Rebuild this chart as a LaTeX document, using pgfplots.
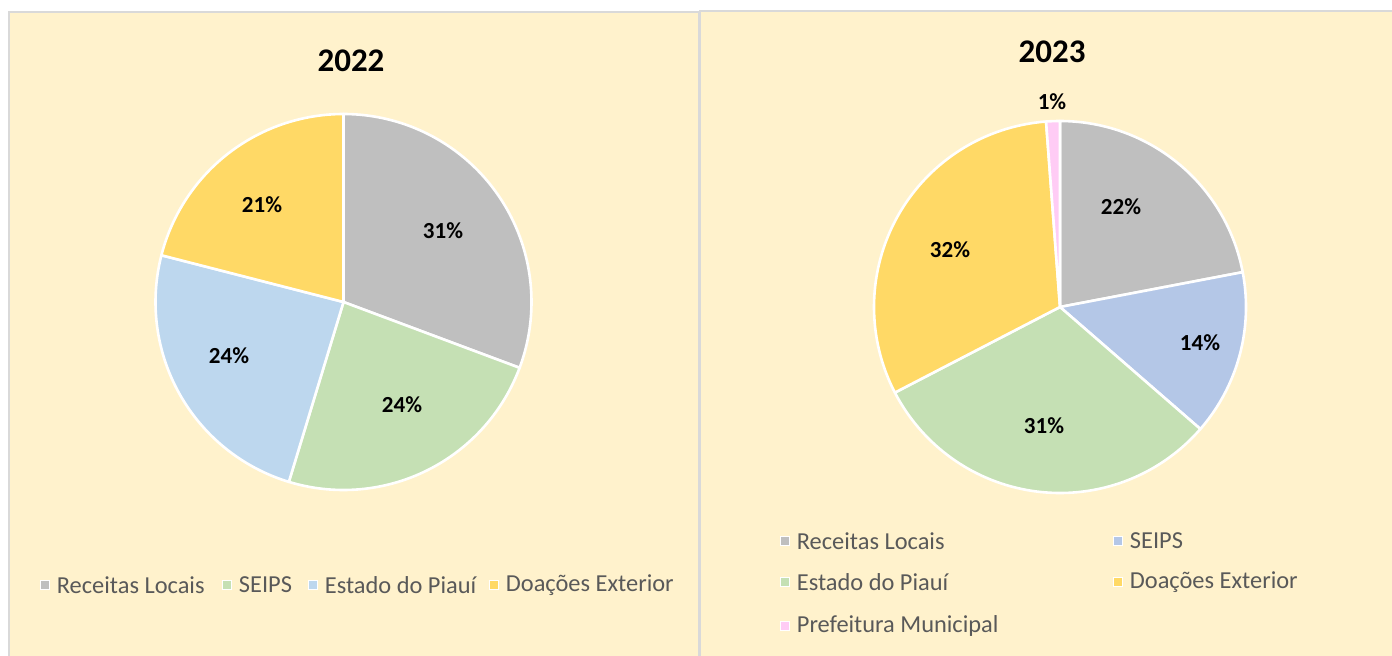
\documentclass[border=0pt]{standalone}
\usepackage{pgfplots}
\pgfplotsset{compat=1.18}
\usepackage{fontspec}
\setmainfont{Carlito}
\definecolor{bgc}{HTML}{FFF2CC}
\definecolor{bord}{HTML}{D9D9D9}
\definecolor{cgray}{HTML}{BFBFBF}
\definecolor{cgreen}{HTML}{C5E0B4}
\definecolor{clblue}{HTML}{BDD7EE}
\definecolor{cblue}{HTML}{B4C7E7}
\definecolor{cgold}{HTML}{FFD966}
\definecolor{cpink}{HTML}{FFCCF5}
\definecolor{ltext}{HTML}{595959}
% \slice{cx}{cy}{r}{start angle}{end angle}{colour}  (angles clockwise from top)
\newcommand{\slice}[6]{%
  \addplot[fill=#6, draw=white, line width=1.3pt, line join=round, domain=#4:#5, samples=90]
    ({#1+#3*sin(x)},{#2+#3*cos(x)}) -- (axis cs:#1,#2) -- cycle;}
% \leg{square x}{y}{colour}{text}
\newcommand{\leg}[4]{%
  \filldraw[fill=#3, draw=white, line width=0.9pt] (axis cs:#1-4.5,#2-4.5) rectangle (axis cs:#1+4.5,#2+4.5);
  \node[anchor=west, text=ltext, font=\fontsize{12.2}{14}\selectfont, inner sep=0pt] at (axis cs:#1+11.5,#2) {#4};}
\newcommand{\pct}[3]{\node[font=\fontsize{11.5}{13}\selectfont\bfseries, inner sep=0pt] at (axis cs:#1,#2) {#3};}
\begin{document}
\begin{tikzpicture}
\begin{axis}[
  width=696pt, height=327.5pt, scale only axis,
  xmin=0, xmax=1392, ymin=0, ymax=655,
  hide axis, clip=true]
  % background and panels
  \fill[white] (axis cs:0,0) rectangle (axis cs:1392,655);
  \filldraw[fill=bgc, draw=bord, line width=0.8pt] (axis cs:9,-10) rectangle (axis cs:699,643);
  \filldraw[fill=bgc, draw=bord, line width=0.8pt] (axis cs:700,-10) rectangle (axis cs:1400,644);

  % ---- 2022 ----  (Receitas 30.7, SEIPS 24.0, Estado 24.3, Doacoes 21.0)
  \slice{343.5}{353}{188}{0}{110.5}{cgray}
  \slice{343.5}{353}{188}{110.5}{196.9}{cgreen}
  \slice{343.5}{353}{188}{196.9}{284.4}{clblue}
  \slice{343.5}{353}{188}{284.4}{360}{cgold}
  \node[font=\fontsize{16.5}{18}\selectfont\bfseries] at (axis cs:351,594) {2022};
  \pct{443}{424}{31\%}
  \pct{402}{250}{24\%}
  \pct{229}{299}{24\%}
  \pct{262}{450}{21\%}
  \leg{45}{70}{cgray}{Receitas Locais}
  \leg{227}{70}{cgreen}{SEIPS}
  \leg{313}{70}{clblue}{Estado do Piauí}
  \leg{494}{70}{cgold}{Doações Exterior}

  % ---- 2023 ----  (Receitas 22.0, SEIPS 14.4, Estado 31.0, Doacoes 31.4, Prefeitura 1.2)
  \slice{1060}{348}{186}{0}{79.2}{cgray}
  \slice{1060}{348}{186}{79.2}{131.0}{cblue}
  \slice{1060}{348}{186}{131.0}{242.6}{cgreen}
  \slice{1060}{348}{186}{242.6}{355.7}{cgold}
  \slice{1060}{348}{186}{355.7}{360}{cpink}
  \node[font=\fontsize{16.5}{18}\selectfont\bfseries] at (axis cs:1052,603) {2023};
  \pct{1121}{448}{22\%}
  \pct{1200}{312}{14\%}
  \pct{1044}{229}{31\%}
  \pct{950}{405}{32\%}
  \pct{1052}{553}{1\%}
  \leg{785}{114}{cgray}{Receitas Locais}
  \leg{1118}{114}{cblue}{SEIPS}
  \leg{785}{73}{cgreen}{Estado do Piauí}
  \leg{1118}{73}{cgold}{Doações Exterior}
  \leg{785}{29}{cpink}{Prefeitura Municipal}
\end{axis}
\end{tikzpicture}
\end{document}
